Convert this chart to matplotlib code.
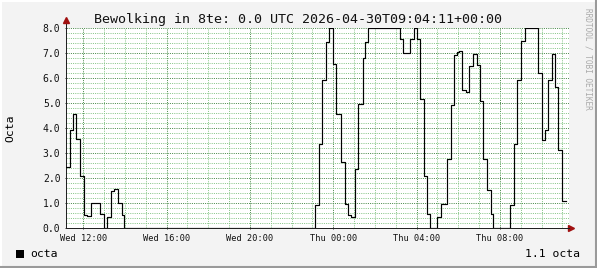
import numpy as np
import matplotlib
matplotlib.use("Agg")
import matplotlib.pyplot as plt
from matplotlib.lines import Line2D
from matplotlib.patches import Rectangle

# hours since Wed 00:00 (local), step changes of the cloud cover
times = [11.17, 11.38, 11.51, 11.66, 11.86, 12.02, 12.18, 12.37, 12.82, 13.01, 13.14, 13.33, 13.49, 13.65, 13.84, 13.97,
         23.14, 23.30, 23.46, 23.65, 23.81, 23.97, 24.13, 24.36, 24.55, 24.71, 24.86, 25.03, 25.19, 25.44, 25.52, 25.67,
         27.19, 27.35, 27.67, 27.86, 28.02, 28.18, 28.34, 28.50, 28.66,
         28.99, 29.18, 29.44, 29.64, 29.79, 29.95, 30.04, 30.17, 30.37, 30.53, 30.69, 30.88, 31.04, 31.20, 31.39, 31.55, 31.68,
         32.50, 32.66, 32.82, 33.01, 33.20, 33.84, 34.00, 34.16, 34.29, 34.48, 34.64, 34.80, 34.99, 35.16]
octa = [2.45, 3.93, 4.56, 3.56, 2.07, 0.53, 0.49, 1.0, 0.57, 0.0, 0.44, 1.5, 1.57, 1.0, 0.53, 0.0,
        0.92, 3.36, 5.92, 7.45, 8.0, 6.58, 4.58, 2.65, 0.98, 0.52, 0.43, 2.38, 4.95, 6.81, 7.45, 8.0,
        7.58, 7.01, 7.58, 8.0, 7.58, 5.16, 2.09, 0.56, 0.0,
        0.43, 0.98, 2.78, 4.92, 6.92, 7.05, 7.08, 5.52, 5.45, 6.49, 6.96, 6.54, 5.08, 2.78, 1.52, 0.55, 0.0,
        0.92, 3.38, 5.92, 7.48, 8.0, 6.19, 3.52, 3.92, 5.92, 6.98, 5.65, 3.12, 1.08, 1.08]

tick_pos = [12, 16, 20, 24, 28, 32]
tick_labels = ["Wed 12:00", "Wed 16:00", "Wed 20:00", "Thu 00:00", "Thu 04:00", "Thu 08:00"]
y_ticks = [0, 1, 2, 3, 4, 5, 6, 7, 8]

title = "Bewolking in 8te: 0.0 UTC 2026-04-30T09:04:11+00:00"
last_value = "1.1 octa"

W, H = 597, 268
mono = "DejaVu Sans Mono"
plt.rcParams['font.family'] = mono

fig = plt.figure(figsize=(W / 100, H / 100), dpi=100, facecolor="#f3f3f3")
# plot area in pixels: x 66..569, y 28..228
ax = fig.add_axes([66 / W, (H - 228) / H, 503 / W, 200 / H])
ax.set_facecolor("white")

x_start = 11.17
px_per_h = 500 / 24
ax.set_xlim(x_start, x_start + 503 / px_per_h)
ax.set_ylim(0, 8)

# grid, dotted like rrdtool
ax.set_xticks(tick_pos)
ax.set_xticks(np.arange(12, 36, 1), minor=True)
ax.set_yticks(y_ticks)
ax.set_yticks(np.arange(0, 8.01, 0.2), minor=True)
ax.grid(which="minor", color="#88c688", linestyle=(0, (1, 1.2)), linewidth=0.72)
ax.grid(which="major", color="#4a8a4a", linestyle=(0, (1, 1.2)), linewidth=0.72)
ax.set_axisbelow(True)

ax.set_xticklabels(tick_labels, fontsize=6.2)
ax.set_yticklabels(["%.1f" % v for v in y_ticks], fontsize=7)
ax.tick_params(which="major", length=2, direction="inout", width=0.7, color="#333333", pad=3,
               labelcolor="#111111")
ax.tick_params(which="minor", length=0)

for s in ["top", "right"]:
    ax.spines[s].set_visible(False)
for s in ["left", "bottom"]:
    ax.spines[s].set_color("#222222")
    ax.spines[s].set_linewidth(0.72)

ax.plot(times, octa, drawstyle="steps-post", color="black", linewidth=0.85, zorder=3)

# axis arrows
ax.plot([x_start, x_start], [8, 8.3], color="#222222", lw=0.72, clip_on=False)
ax.plot([x_start], [8.3], marker="^", color="#a01010", markersize=4, clip_on=False)
x_end = x_start + 503 / px_per_h
ax.plot([x_end, x_end + 2 / px_per_h], [0, 0], color="#222222", lw=0.72, clip_on=False)
ax.plot([x_end + 2 / px_per_h], [0], marker=">", color="#a01010", markersize=4, clip_on=False)

fig.text(0.5, 1 - 19 / H, title, ha="center", va="center", fontsize=9.6, color="#111111")
fig.text(10 / W, 1 - 128 / H, "Octa", rotation=90, ha="center", va="center", fontsize=8.2)
fig.text(588 / W, 1 - 8 / H, "RRDTOOL / TOBI OETIKER", rotation=270, ha="center", va="top",
         fontsize=5.6, color="#aaaaaa")

# legend
fig.add_artist(Rectangle((16 / W, 1 - 258 / H), 8 / W, 8 / H, transform=fig.transFigure,
                         facecolor="black", edgecolor="none"))
fig.text(30 / W, 1 - 254 / H, "octa", ha="left", va="center", fontsize=8.2)
fig.text(580 / W, 1 - 254 / H, last_value, ha="right", va="center", fontsize=8.2)

# frame around the image
fig.add_artist(Line2D([0, 1], [1 - 0.5 / H, 1 - 0.5 / H], transform=fig.transFigure, color="white", lw=1.5))
fig.add_artist(Line2D([0.5 / W, 0.5 / W], [0, 1], transform=fig.transFigure, color="white", lw=1.5))
fig.add_artist(Line2D([0, 1], [1 / H, 1 / H], transform=fig.transFigure, color="#9a9a9a", lw=1.5))
fig.add_artist(Line2D([1 - 1 / W, 1 - 1 / W], [0, 1], transform=fig.transFigure, color="#9a9a9a", lw=1.5))

fig.savefig("out.png", dpi=100, facecolor=fig.get_facecolor())
